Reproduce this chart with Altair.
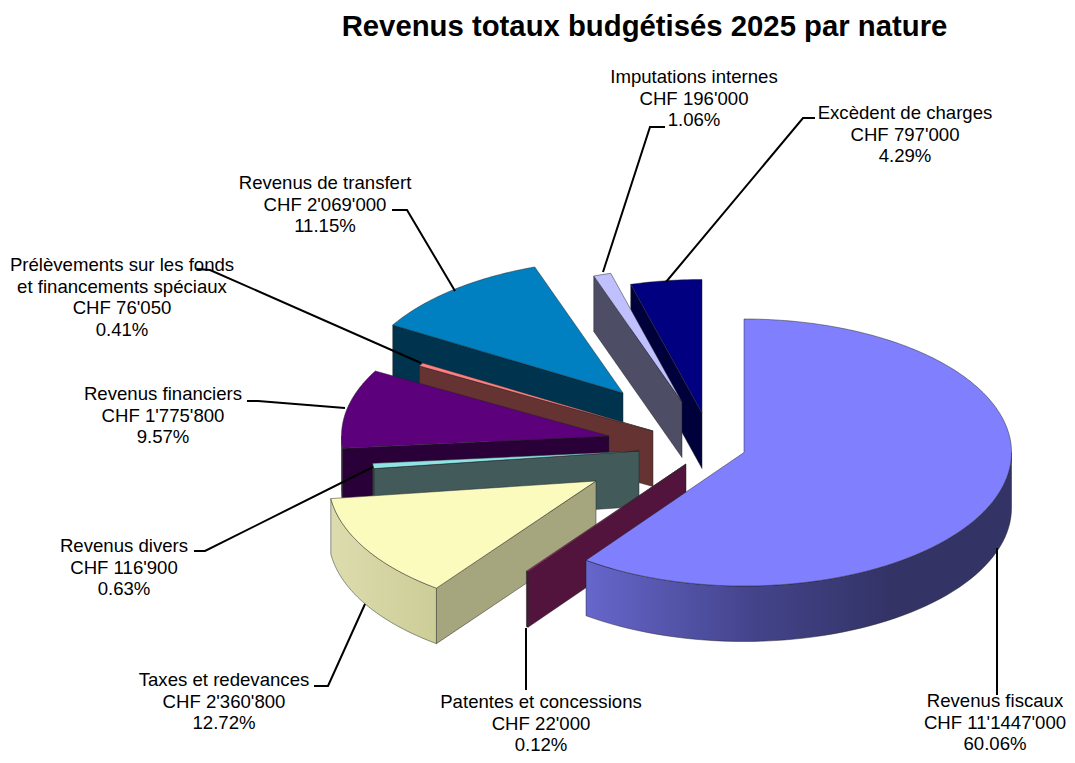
import numpy as np
import pandas as pd
import altair as alt

# --- data ---
names = ["Revenus fiscaux", "Patentes et concessions", "Taxes et redevances", "Revenus divers",
         "Revenus financiers", "Prélèvements sur les fonds", "Revenus de transfert",
         "Imputations internes", "Excèdent de charges"]
shares = [60.06, 0.12, 12.72, 0.63, 9.57, 0.41, 11.15, 1.06, 4.29]
title_text = "Revenus totaux budgétisés 2025 par nature"
label_lines = [
    ["Revenus fiscaux", "CHF 11'1447'000", "60.06%"],
    ["Patentes et concessions", "CHF 22'000", "0.12%"],
    ["Taxes et redevances", "CHF 2'360'800", "12.72%"],
    ["Revenus divers", "CHF 116'900", "0.63%"],
    ["Revenus financiers", "CHF 1'775'800", "9.57%"],
    ["Prélèvements sur les fonds", "et financements spéciaux", "CHF 76'050", "0.41%"],
    ["Revenus de transfert", "CHF 2'069'000", "11.15%"],
    ["Imputations internes", "CHF 196'000", "1.06%"],
    ["Excèdent de charges", "CHF 797'000", "4.29%"],
]

# --- layout and style of the 3-D exploded pie ---
W, H = 1059, 747
CX, CY, RX, RY, DEPTH = 744, 452.5, 267.5, 133.5, 55.5
explode = [(0, 0), (-58, 11.5), (-148, 28.5), (-105, -1.5), (-135, -16.5),
           (-91, -21.5), (-121, -59.5), (-62, -50.5), (-42, -39.5)]
top_col = ["#8080ff", "#a02070", "#fbfbbe", "#90e4e4", "#5c007c", "#ff8080", "#0080c0", "#c0c0ff", "#000080"]
wall_col = ["#333366", "#52133d", "#a6a67e", "#425a5a", "#2a0038", "#663333", "#00334d", "#4d4d66", "#00003a"]
label_pos = [(995, 701), (541, 702), (224, 680), (124, 546), (163, 394),
             (122, 265), (325, 183), (694, 77), (905, 113)]
label_step = 21.7
leaders = [
    [(997, 548), (997, 695)],
    [(526, 628), (526, 690)],
    [(365, 604), (328, 686), (314, 686)],
    [(373, 467), (205, 551), (194, 551)],
    [(345, 408), (258, 401), (247, 401)],
    [(421, 363), (210, 270), (197, 269)],
    [(455, 291), (407, 210), (392, 210)],
    [(603, 272), (650, 127), (665, 127)],
    [(666, 282), (803, 118), (815, 118)],
]
paint_order = [8, 7, 6, 5, 4, 3, 2, 1, 0]

X = alt.X("x:Q", axis=None, scale=alt.Scale(domain=[8, 8 + W], range=[0, W]))
Y = alt.Y("y:Q", axis=None, scale=alt.Scale(domain=[8, 8 + H], range=[0, H]))


def grad(stops):
    return alt.Gradient(gradient="linear", x1=0, x2=1, y1=0, y2=0,
                        stops=[alt.GradientStop(offset=o, color=c) for o, c in stops])


def rim(ax, ay, t):
    return ax + RX * np.sin(t), ay - RY * np.cos(t)


def face(pts, fill):
    df = pd.DataFrame(pts, columns=["x", "y"])
    df["i"] = range(len(df))
    return alt.Chart(df).mark_line(fill=fill, stroke="#222222", strokeWidth=0.8, strokeOpacity=0.6,
                                   interpolate="linear").encode(x=X, y=Y, order="i:Q")


total = sum(shares)
edges = np.radians(np.concatenate([[0], np.cumsum(shares)]) / total * 360)
wall_grad = {
    0: grad([(0, "#6666cc"), (0.4, "#43438a"), (0.72, "#333366"), (1, "#333366")]),
    2: grad([(0, "#dcdcae"), (1, "#cdcd98")]),
}

layers = []
for k in paint_order:
    t1, t2 = edges[k], edges[k + 1]
    ax, ay = CX + explode[k][0], CY + explode[k][1]
    # radial wall on the start edge, where it faces the viewer
    if t1 >= np.pi:
        rx, ry = rim(ax, ay, t1)
        layers.append(face([(ax, ay), (rx, ry), (rx, ry + DEPTH), (ax, ay + DEPTH), (ax, ay)], wall_col[k]))
    # curved outer wall, front half only
    lo, hi = max(t1, np.pi / 2), min(t2, 3 * np.pi / 2)
    if hi > lo:
        ts = np.linspace(lo, hi, 60)
        up = [rim(ax, ay, t) for t in ts]
        down = [(x, y + DEPTH) for x, y in reversed(up)]
        layers.append(face(up + down + up[:1], wall_grad.get(k, wall_col[k])))
    # top surface
    ts = np.linspace(t1, t2, max(3, int((t2 - t1) * 60)))
    layers.append(face([(ax, ay)] + [rim(ax, ay, t) for t in ts] + [(ax, ay)], top_col[k]))

# leader lines
rows = []
for n, pts in enumerate(leaders):
    for i, (x, y) in enumerate(pts):
        rows.append({"leader": names[n], "i": i, "x": x, "y": y})
layers.append(alt.Chart(pd.DataFrame(rows)).mark_line(color="black", strokeWidth=2).encode(
    x=X, y=Y, detail="leader:N", order="i:Q"))

# labels
rows = []
for (x, y), lines in zip(label_pos, label_lines):
    for j, line in enumerate(lines):
        rows.append({"x": x, "y": y + j * label_step, "t": line})
layers.append(alt.Chart(pd.DataFrame(rows)).mark_text(
    font="Liberation Sans", fontSize=18.6, color="black", align="center", baseline="middle"
).encode(x=X, y=Y, text="t:N"))

# title
layers.append(alt.Chart(pd.DataFrame({"x": [644.5], "y": [27], "t": [title_text]})).mark_text(
    font="Liberation Sans", fontSize=29.3, fontWeight="bold", color="black", align="center", baseline="middle"
).encode(x=X, y=Y, text="t:N"))

chart = alt.layer(*layers).properties(
    width=W, height=H, padding=0, autosize=alt.AutoSizeParams(type="none"), background="white"
).configure_view(stroke=None)

chart.save("out.html", embed_options={"renderer": "svg", "actions": False})
